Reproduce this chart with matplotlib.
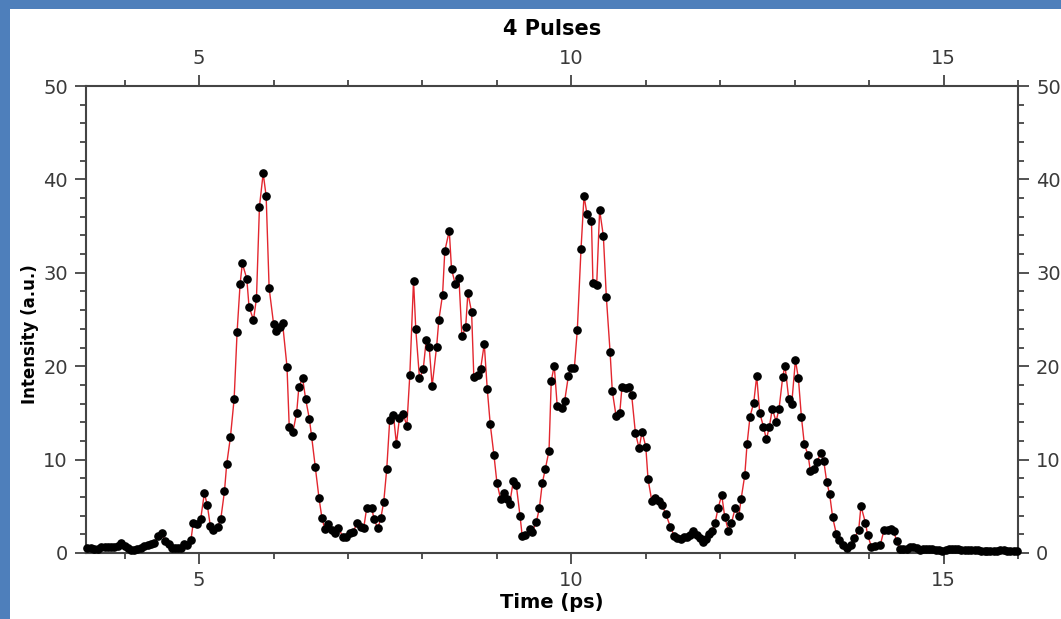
import matplotlib
matplotlib.use("Agg")
import matplotlib.pyplot as plt
import matplotlib.patches as mpatches
from matplotlib.ticker import MultipleLocator

# ---------------- data ----------------
time_ps = [
    3.50, 3.55, 3.59, 3.64, 3.68, 3.73, 3.77, 3.82, 3.86, 3.91,
    3.95, 4.00, 4.04, 4.08, 4.13, 4.17, 4.22, 4.26, 4.31, 4.35,
    4.40, 4.45, 4.50, 4.54, 4.59, 4.63, 4.68, 4.72, 4.76, 4.80,
    4.84, 4.89, 4.92, 4.97, 5.02, 5.07, 5.11, 5.15, 5.19, 5.25,
    5.29, 5.34, 5.37, 5.42, 5.47, 5.51, 5.55, 5.58,
    5.64, 5.67, 5.73, 5.77, 5.81, 5.86, 5.90, 5.94, 6.00, 6.03,
    6.08, 6.12, 6.18, 6.21, 6.26, 6.31, 6.34, 6.39, 6.43, 6.48,
    6.51, 6.56, 6.61, 6.65, 6.69, 6.73, 6.78, 6.82, 6.87, 6.93,
    6.97, 7.02, 7.07, 7.12, 7.17, 7.21, 7.25, 7.32, 7.35, 7.40,
    7.44, 7.48, 7.52, 7.56, 7.61, 7.65, 7.69,
    7.74, 7.79, 7.83, 7.88, 7.91, 7.96, 8.01, 8.05, 8.09, 8.13,
    8.19, 8.22, 8.27, 8.30, 8.36, 8.39, 8.44, 8.49, 8.53, 8.58,
    8.61, 8.66, 8.69, 8.74, 8.78, 8.83, 8.87, 8.91, 8.96, 9.00,
    9.05, 9.09, 9.14, 9.17, 9.22, 9.26, 9.31, 9.34, 9.38, 9.44,
    9.47, 9.53, 9.57, 9.61, 9.65, 9.70, 9.73, 9.77,
    9.81, 9.87, 9.91, 9.96, 9.99, 10.04, 10.08, 10.13, 10.17, 10.21,
    10.27, 10.29, 10.34, 10.38, 10.43, 10.47, 10.52, 10.55, 10.60, 10.65,
    10.68, 10.74, 10.78, 10.81, 10.86, 10.91, 10.95, 11.00, 11.03, 11.08,
    11.13, 11.18, 11.22, 11.27, 11.33, 11.38, 11.42, 11.47, 11.51, 11.56,
    11.60, 11.64, 11.69, 11.73, 11.77, 11.81, 11.85,
    11.89, 11.93, 11.97, 12.02, 12.06, 12.11, 12.15, 12.20, 12.25, 12.28,
    12.33, 12.36, 12.40, 12.45, 12.49, 12.53, 12.58, 12.62, 12.66, 12.70,
    12.75, 12.79, 12.84, 12.87, 12.92, 12.96, 13.01, 13.05, 13.09, 13.13,
    13.18, 13.21, 13.26, 13.30, 13.35, 13.39, 13.43, 13.47, 13.51, 13.56,
    13.60, 13.65, 13.70, 13.75, 13.80, 13.86, 13.89, 13.95, 13.98, 14.03,
    14.08, 14.15, 14.20, 14.25, 14.29, 14.33, 14.37, 14.42,
    14.46, 14.51, 14.55, 14.59, 14.64, 14.68, 14.72, 14.77, 14.81, 14.85,
    14.90, 14.94, 14.98, 15.03, 15.07, 15.11, 15.16, 15.20, 15.24, 15.29,
    15.33, 15.37, 15.42, 15.46, 15.50, 15.55, 15.59, 15.63, 15.68, 15.72,
    15.76, 15.81, 15.85, 15.89, 15.94, 15.98,
]

intensity = [
    0.50, 0.57, 0.46, 0.39, 0.61, 0.61, 0.61, 0.64, 0.68, 0.79,
    1.03, 0.75, 0.50, 0.32, 0.32, 0.43, 0.57, 0.75, 0.86, 0.93,
    1.03, 1.82, 2.11, 1.32, 0.96, 0.57, 0.50, 0.50, 0.57, 0.93,
    0.86, 1.40, 3.20, 3.10, 3.60, 6.40, 5.10, 2.90, 2.50, 2.80,
    3.60, 6.60, 9.50, 12.40, 16.50, 23.70, 28.80, 31.00,
    29.37, 26.37, 24.95, 27.27, 37.08, 40.65, 38.22, 28.37, 24.52, 23.73,
    24.23, 24.66, 19.95, 13.53, 12.99, 15.02, 17.81, 18.70, 16.52, 14.38,
    12.53, 9.17, 5.89, 3.71, 2.53, 3.10, 2.46, 2.18, 2.68, 1.75,
    1.75, 2.11, 2.28, 3.18, 2.82, 2.64, 4.78, 4.78, 3.60, 2.64,
    3.71, 5.50, 8.99, 14.24, 14.78, 11.67, 14.42,
    14.88, 13.63, 19.06, 29.16, 23.98, 18.70, 19.66, 22.77, 22.09, 17.88,
    22.09, 24.95, 27.66, 32.33, 34.51, 30.41, 28.80, 29.41, 23.20, 24.16,
    27.84, 25.80, 18.81, 19.06, 19.66, 22.38, 17.59, 13.81, 10.49, 7.53,
    5.75, 6.39, 5.75, 5.21, 7.71, 7.28, 4.00, 1.82, 1.93, 2.53,
    2.21, 3.32, 4.78, 7.49, 8.99, 10.96, 18.42, 20.06,
    15.74, 15.56, 16.27, 18.95, 19.77, 19.77, 23.88, 32.58, 38.22, 36.30,
    35.58, 28.94, 28.66, 36.72, 33.94, 27.41, 21.56, 17.34, 14.70, 14.95,
    17.81, 17.70, 17.74, 16.92, 12.88, 11.21, 12.99, 11.38, 7.92, 5.60,
    5.85, 5.60, 5.14, 4.14, 2.82, 1.86, 1.57, 1.46, 1.75, 1.75,
    1.93, 2.36, 1.93, 1.57, 1.21, 1.46, 2.00,
    2.36, 3.18, 4.78, 6.21, 3.89, 2.39, 3.18, 4.78, 3.96, 5.75,
    8.35, 11.63, 14.60, 16.10, 18.95, 15.02, 13.53, 12.17, 13.53, 15.45,
    14.06, 15.45, 18.88, 20.06, 16.52, 15.95, 20.66, 18.70, 14.60, 11.63,
    10.49, 8.82, 8.99, 9.78, 10.67, 9.89, 7.64, 6.28, 3.82, 2.03,
    1.39, 0.86, 0.57, 0.86, 1.57, 2.46, 5.03, 3.25, 1.93, 0.68,
    0.75, 0.85, 2.46, 2.46, 2.60, 2.35, 1.28, 0.46,
    0.40, 0.45, 0.60, 0.65, 0.55, 0.35, 0.40, 0.40, 0.40, 0.45,
    0.35, 0.30, 0.25, 0.30, 0.40, 0.45, 0.40, 0.45, 0.35, 0.35,
    0.30, 0.35, 0.30, 0.30, 0.25, 0.25, 0.25, 0.25, 0.25, 0.25,
    0.35, 0.35, 0.25, 0.25, 0.25, 0.25,
]

x_major_ticks = [5, 10, 15]
y_major_ticks = [0, 10, 20, 30, 40, 50]
title_text = "4 Pulses"
x_label = "Time (ps)"
y_label = "Intensity (a.u.)"

# ---------------- figure ----------------
W, H = 1061, 619
fig = plt.figure(figsize=(W / 100, H / 100), dpi=100)
fig.patch.set_facecolor("#4e7fbb")
panel = mpatches.Rectangle((10 / W, 0), 1 - 10 / W, 1 - 9 / H,
                           transform=fig.transFigure, facecolor="white",
                           edgecolor="none", zorder=-10)
fig.patches.append(panel)

ax = fig.add_axes([86 / W, 66 / H, 932 / W, 467 / H])
ax.set_zorder(5)
ax.set_facecolor("white")

ax.plot(time_ps, intensity, "-o", color="#e3262e", lw=1.0,
        markerfacecolor="black", markeredgecolor="black", markersize=5.2,
        clip_on=False, zorder=3)

ax.set_xlim(3.48, 16.0)
ax.set_ylim(0, 50)
ax.set_xticks(x_major_ticks)
ax.set_yticks(y_major_ticks)
ax.xaxis.set_minor_locator(MultipleLocator(1))
ax.yaxis.set_minor_locator(MultipleLocator(2))

axis_col = "#444444"
for sp in ax.spines.values():
    sp.set_color(axis_col)
    sp.set_linewidth(1.5)

ax.tick_params(which="both", direction="out", top=True, right=True,
               labeltop=True, labelright=True, colors=axis_col,
               labelcolor="#3a3a3a", labelsize=14, width=1.3)
ax.tick_params(which="major", length=8, pad=5)
ax.tick_params(which="minor", length=4.5)

ax.set_title(title_text, fontsize=15, fontweight="bold", color="black", pad=10)
ax.set_xlabel(x_label, fontsize=14, fontweight="bold", labelpad=2)
ax.set_ylabel(y_label, fontsize=12, fontweight="bold")
ax.yaxis.set_label_coords(-0.050, 0.468)

fig.savefig("out.png", dpi=100, facecolor=fig.get_facecolor())
